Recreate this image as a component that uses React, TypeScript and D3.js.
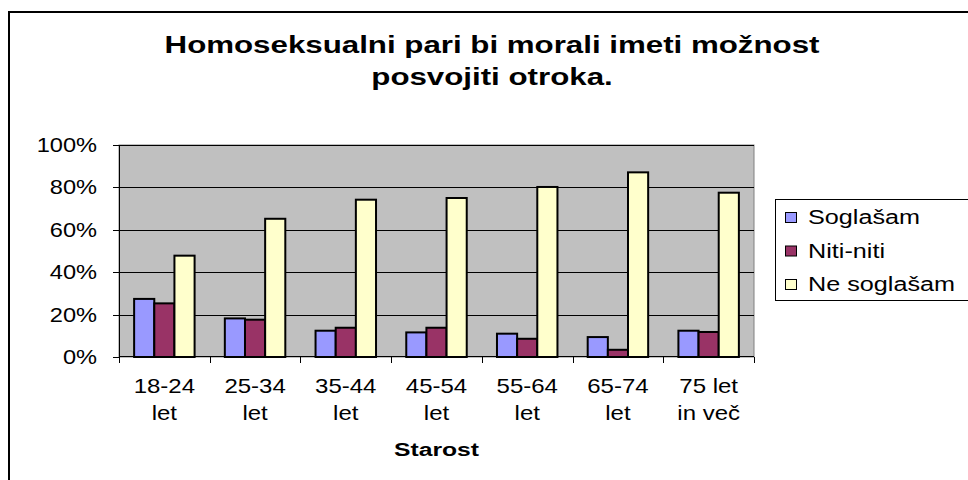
import React from "react";
import * as d3 from "d3";

const titleLines = ["Homoseksualni pari bi morali imeti možnost", "posvojiti otroka."];
const categories = ["18-24 let", "25-34 let", "35-44 let", "45-54 let", "55-64 let", "65-74 let", "75 let in več"];
const categoryLines = [
  ["18-24", "let"],
  ["25-34", "let"],
  ["35-44", "let"],
  ["45-54", "let"],
  ["55-64", "let"],
  ["65-74", "let"],
  ["75 let", "in več"],
];
const seriesNames = ["Soglašam", "Niti-niti", "Ne soglašam"];
const soglasam = [27.4, 18.2, 12.4, 11.6, 11.0, 9.4, 12.4];
const nitiNiti = [25.3, 17.6, 13.8, 13.8, 8.6, 3.4, 11.8];
const neSoglasam = [47.8, 65.2, 74.2, 75.0, 80.2, 87.1, 77.5];
const yTicks = [0, 20, 40, 60, 80, 100];
const xAxisTitle = "Starost";

const seriesValues = [soglasam, nitiNiti, neSoglasam];
const colors = ["#9999FF", "#993366", "#FFFFCC"];
const FONT = "'Liberation Sans', Arial, sans-serif";

function SText(props: {
  x: number;
  y: number;
  sx: number;
  size: number;
  anchor: "start" | "middle" | "end";
  bold?: boolean;
  children: React.ReactNode;
}) {
  return (
    <text
      transform={`translate(${props.x},${props.y}) scale(${props.sx},1)`}
      fontFamily={FONT}
      fontSize={props.size}
      fontWeight={props.bold ? "bold" : "normal"}
      textAnchor={props.anchor}
      fill="#000"
    >
      {props.children}
    </text>
  );
}

export default function App() {
  const W = 968;
  const H = 480;
  const plot = { left: 119, right: 754, top: 145, bottom: 357 };

  const x0 = d3.scaleBand<string>().domain(categories).range([plot.left, plot.right]).paddingInner(0).paddingOuter(0);
  const bw = x0.bandwidth();
  const x1 = d3.scaleBand<string>().domain(seriesNames).range([bw * 0.1667, bw * 0.8333]).padding(0);
  const y = d3.scaleLinear().domain([0, 100]).range([plot.bottom, plot.top]);

  const tickBoundaries = categories.map((c) => x0(c) as number).concat([plot.right]);

  return (
    <svg width={W} height={H} style={{ position: "absolute", left: 0, top: 0, display: "block" }}>
      <rect x={0} y={0} width={W} height={H} fill="#fff" />
      <rect x={9} y={12} width={W + 10} height={H + 10} fill="none" stroke="#000" strokeWidth={2} />

      {titleLines.map((t, i) => (
        <SText key={i} x={492} y={53 + i * 32} sx={1.36} size={23} anchor="middle" bold>
          {t}
        </SText>
      ))}

      <rect x={plot.left} y={plot.top} width={plot.right - plot.left} height={plot.bottom - plot.top} fill="#C0C0C0" stroke="#808080" strokeWidth={1} />

      {yTicks.filter((t) => t > 0).map((t) => (
        <line key={t} x1={plot.left} x2={plot.right} y1={Math.round(y(t)) + 0.5} y2={Math.round(y(t)) + 0.5} stroke="#000" strokeWidth={1} />
      ))}

      {categories.map((c, ci) => (
        <g key={c} transform={`translate(${x0(c)},0)`}>
          {seriesNames.map((s, si) => (
            <rect
              key={s}
              x={x1(s) as number}
              y={y(seriesValues[si][ci])}
              width={x1.bandwidth()}
              height={plot.bottom - y(seriesValues[si][ci])}
              fill={colors[si]}
              stroke="#000"
              strokeWidth={2}
            />
          ))}
        </g>
      ))}

      <line x1={plot.left + 0.5} x2={plot.left + 0.5} y1={plot.top} y2={plot.bottom} stroke="#000" strokeWidth={1} />
      {yTicks.map((t) => (
        <g key={t}>
          <line x1={plot.left - 6} x2={plot.left} y1={Math.round(y(t)) + 0.5} y2={Math.round(y(t)) + 0.5} stroke="#000" strokeWidth={1} />
          <SText x={97} y={y(t) + 7} sx={1.18} size={20} anchor="end">
            {`${t}%`}
          </SText>
        </g>
      ))}

      <line x1={plot.left} x2={plot.right} y1={plot.bottom - 0.5} y2={plot.bottom - 0.5} stroke="#000" strokeWidth={1} />
      {tickBoundaries.map((tx, i) => (
        <line key={i} x1={Math.round(tx) + 0.5} x2={Math.round(tx) + 0.5} y1={plot.bottom} y2={plot.bottom + 6} stroke="#000" strokeWidth={1} />
      ))}
      {categories.map((c, ci) => (
        <g key={c}>
          {categoryLines[ci].map((ln, li) => (
            <SText key={li} x={(x0(c) as number) + bw / 2} y={393 + li * 27} sx={1.2} size={20} anchor="middle">
              {ln}
            </SText>
          ))}
        </g>
      ))}
      <SText x={(plot.left + plot.right) / 2} y={456} sx={1.3} size={19} anchor="middle" bold>
        {xAxisTitle}
      </SText>

      <rect x={775.5} y={199.5} width={200} height={101} fill="#fff" stroke="#000" strokeWidth={1} />
      {seriesNames.map((s, si) => (
        <g key={s}>
          <rect x={785.5} y={212.5 + si * 33.5} width={11} height={10} fill={colors[si]} stroke="#000" strokeWidth={1} />
          <SText x={808} y={224 + si * 33.5} sx={1.2} size={21} anchor="start">
            {s}
          </SText>
        </g>
      ))}
    </svg>
  );
}
